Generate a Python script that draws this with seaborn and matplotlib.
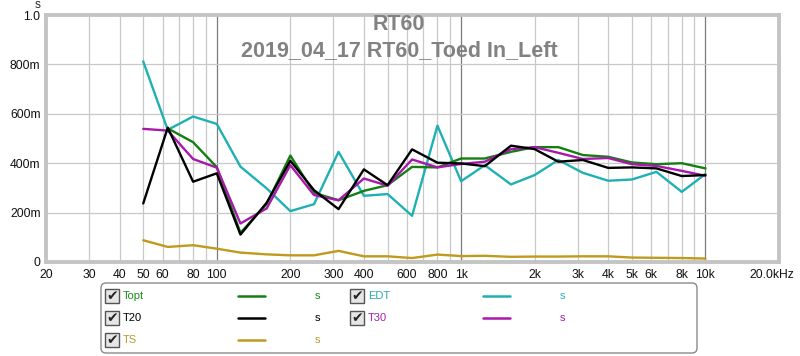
import numpy as np
import pandas as pd
import matplotlib
matplotlib.use("Agg")
import matplotlib.pyplot as plt
from matplotlib.patches import FancyBboxPatch, Rectangle
from matplotlib.lines import Line2D
from matplotlib.transforms import ScaledTranslation
import seaborn as sns

freqs = [50, 63, 80, 100, 125, 160, 200, 250, 315, 400, 500, 630, 800,
         1000, 1250, 1600, 2000, 2500, 3150, 4000, 5000, 6300, 8000, 10000]
topt = [np.nan, 0.541, 0.485, 0.384, 0.118, 0.235, 0.431, 0.280, 0.250, 0.288, 0.311, 0.385,
        0.383, 0.419, 0.419, 0.446, 0.465, 0.465, 0.433, 0.426, 0.403, 0.396, 0.400, 0.379]
edt = [0.812, 0.535, 0.589, 0.559, 0.386, 0.298, 0.206, 0.234, 0.446, 0.268, 0.275, 0.187,
       0.552, 0.327, 0.392, 0.314, 0.352, 0.413, 0.361, 0.329, 0.334, 0.365, 0.284, 0.356]
t20 = [0.237, 0.544, 0.325, 0.359, 0.111, 0.240, 0.410, 0.291, 0.214, 0.375, 0.311, 0.456,
       0.402, 0.399, 0.388, 0.471, 0.457, 0.406, 0.413, 0.381, 0.383, 0.379, 0.348, 0.352]
t30 = [0.539, 0.532, 0.417, 0.382, 0.156, 0.217, 0.392, 0.271, 0.250, 0.338, 0.309, 0.415,
       0.383, 0.397, 0.406, 0.457, 0.465, 0.442, 0.417, 0.421, 0.396, 0.389, 0.369, 0.349]
ts = [0.088, 0.061, 0.068, 0.054, 0.038, 0.031, 0.027, 0.027, 0.045, 0.023, 0.023, 0.016,
      0.030, 0.024, 0.025, 0.021, 0.022, 0.022, 0.023, 0.023, 0.018, 0.017, 0.016, 0.014]

colors = {"Topt": "#127f12", "T20": "#000000", "TS": "#c09a1c",
          "EDT": "#1fb0b4", "T30": "#a818ac"}
label_colors = {"Topt": "#1a8a1a", "T20": "#000000", "TS": "#b89a30",
                "EDT": "#2aaab0", "T30": "#a020a8"}

xticks = [20, 30, 40, 50, 60, 80, 100, 200, 300, 400, 600, 800,
          1000, 2000, 3000, 4000, 5000, 6000, 8000, 10000, 20000]
xlabels = ["20", "30", "40", "50", "60", "80", "100", "200", "300", "400", "600", "800",
           "1k", "2k", "3k", "4k", "5k", "6k", "8k", "10k", "20.0kHz"]
yticks = [0, 0.2, 0.4, 0.6, 0.8, 1.0]
ylabels = ["0", "200m", "400m", "600m", "800m", "1.0"]

df = pd.concat([pd.DataFrame({"freq": freqs, "value": v, "series": name})
                for name, v in [("TS", ts), ("EDT", edt), ("Topt", topt),
                                ("T30", t30), ("T20", t20)]], ignore_index=True)

sns.set_style("white")
plt.rcParams["font.family"] = ["Liberation Sans", "DejaVu Sans"]

fig = plt.figure(figsize=(8, 3.56), dpi=100)
ax = fig.add_axes([46 / 800, 1 - 262 / 356, 733 / 800, 247 / 356])

# grid: minor every integer multiple, darker at decades
for dec in [10, 100, 1000]:
    for m in range(2, 10):
        f = dec * m
        if 20 <= f <= 10000:
            ax.axvline(f, color="#c8c8c8", lw=0.9, zorder=0)
for f in [100, 1000, 10000]:
    ax.axvline(f, color="#7a7a7a", lw=0.9, zorder=0)
for y in yticks[1:-1]:
    ax.axhline(y, color="#c8c8c8", lw=0.9, zorder=0)

sns.lineplot(data=df, x="freq", y="value", hue="series", palette=colors,
             hue_order=["TS", "EDT", "Topt", "T30", "T20"], legend=False,
             linewidth=1.7, ax=ax, zorder=3)

ax.set_xscale("log")
ax.set_xlim(20, 20000)
ax.set_ylim(0, 1.0)
ax.set_xticks(xticks)
ax.set_xticklabels(xlabels)
ax.minorticks_off()
ax.set_yticks(yticks)
ax.set_yticklabels(ylabels)
ax.tick_params(length=0, labelsize=8.7, colors="#111111")
ax.tick_params(axis="x", pad=5)
ax.tick_params(axis="y", pad=4)
ax.set_xlabel("")
ax.set_ylabel("")
for sp in ax.spines.values():
    sp.set_color("#c4c4c4")
    sp.set_linewidth(2.8)

# last x label sits a little left of the axis end, as in the original
last = ax.get_xticklabels()[-1]
last.set_transform(last.get_transform() + ScaledTranslation(-7 / 100, 0, fig.dpi_scale_trans))

fig.text(38 / 800, 1 - 4.5 / 356, "s", fontsize=8.5, ha="center", va="center")
fig.text(399 / 800, 1 - 25 / 356, "RT60", fontsize=15.5, fontweight="bold",
         color="#828282", ha="center", va="center")
fig.text(399 / 800, 1 - 50.5 / 356, "2019_04_17 RT60_Toed In_Left", fontsize=15.5,
         fontweight="bold", color="#828282", ha="center", va="center")

# legend panel
lg = fig.add_axes([100 / 800, 1 - 354 / 356, 598 / 800, 72 / 356])
lg.set_xlim(0, 598)
lg.set_ylim(72, 0)
lg.axis("off")
lg.add_patch(FancyBboxPatch((1, 1), 596, 70, boxstyle="round,pad=0,rounding_size=5",
                            fc="white", ec="#8a8a8a", lw=1.0))
entries = [("Topt", 0, 0), ("T20", 0, 1), ("TS", 0, 2), ("EDT", 1, 0), ("T30", 1, 1)]
for name, col, row in entries:
    x0 = 5 + col * 245
    yc = 14 + row * 22
    lg.add_patch(Rectangle((x0, yc - 7), 14, 14, fc="#e6e6e6", ec="#555555", lw=1.0))
    lg.text(x0 + 7, yc + 0.5, "\u2714", fontsize=10, ha="center",
            va="center", family=["DejaVu Sans"])
    lg.text(x0 + 18, yc, name, fontsize=8, color=label_colors[name], va="center")
    lg.add_line(Line2D([x0 + 133, x0 + 160], [yc, yc], color=colors[name], lw=1.8))
    lg.text(x0 + 212, yc, "s", fontsize=8, color=label_colors[name], va="center",
            ha="center")

fig.savefig("out.png", dpi=100)
